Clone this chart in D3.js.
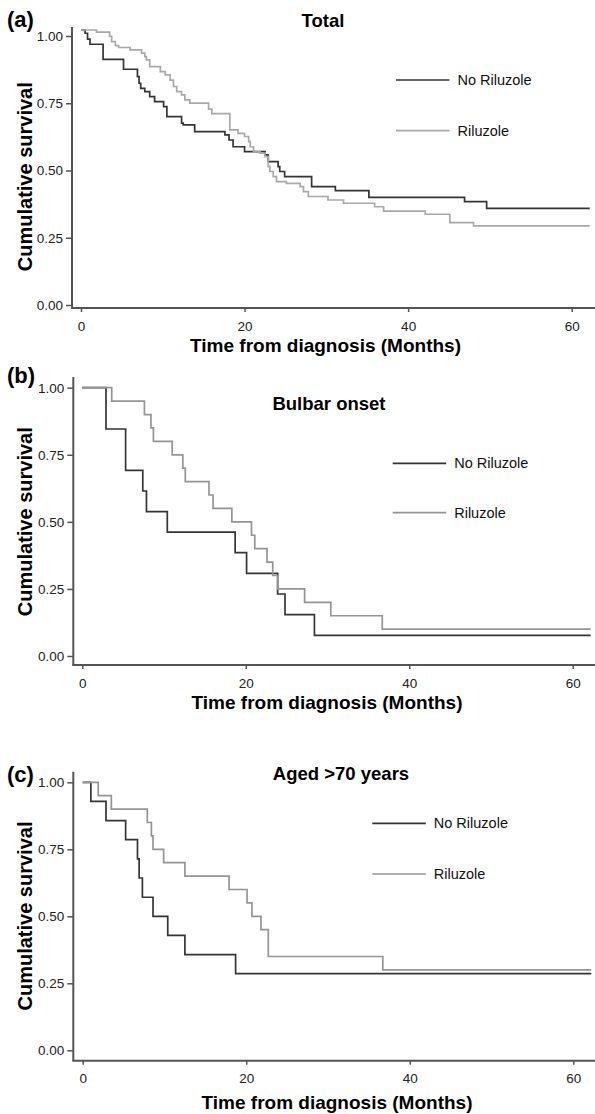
<!DOCTYPE html>
<html>
<head>
<meta charset="utf-8">
<script src="https://cdn.jsdelivr.net/npm/d3@7"></script>
<style>
  body { margin: 0; background: #fff; }
  svg { display: block; font-family: "Liberation Sans", Arial, Helvetica, sans-serif; }
</style>
</head>
<body>
<div id="chart"></div>
<script>
var groups = ['No Riluzole', 'Riluzole'];
var panelTags = ['(a)', '(b)', '(c)'];
var panelTitles = ['Total', 'Bulbar onset', 'Aged >70 years'];
var survivalTicks = [0, 0.25, 0.5, 0.75, 1];
var monthTicks = [0, 20, 40, 60];

// (a) Total
var totalNoRiluzoleMonths = [0, 0.5, 0.8, 1.1, 2.7, 5.2, 6.9, 7.1, 7.3, 7.8, 8.4, 9.0, 10.1, 10.5, 12.3, 12.5, 13.9, 17.6, 18.1, 18.6, 20.0, 22.5, 22.9, 24.1, 24.3, 24.9, 28.2, 31.1, 35.2, 46.9, 49.6, 62.2];
var totalNoRiluzoleSurvival = [1.0, 0.988, 0.966, 0.947, 0.891, 0.854, 0.827, 0.802, 0.783, 0.771, 0.752, 0.734, 0.715, 0.678, 0.654, 0.647, 0.622, 0.610, 0.591, 0.566, 0.548, 0.536, 0.511, 0.492, 0.474, 0.455, 0.418, 0.403, 0.378, 0.362, 0.337, 0.337];
var totalRiluzoleMonths = [0, 1.9, 3.5, 3.75, 4.2, 4.6, 6.0, 7.4, 7.8, 8.0, 8.4, 9.7, 10.3, 10.9, 11.3, 11.7, 12.3, 12.7, 13.3, 15.6, 16.0, 18.2, 19.2, 20.0, 20.5, 20.7, 21.1, 21.9, 22.5, 22.9, 23.1, 23.5, 23.9, 25.1, 26.8, 27.2, 27.8, 30.2, 32.1, 35.9, 37.0, 42.1, 45.1, 48.0, 62.2];
var totalRiluzoleSurvival = [1.0, 0.992, 0.976, 0.957, 0.942, 0.935, 0.926, 0.914, 0.901, 0.889, 0.864, 0.845, 0.833, 0.814, 0.790, 0.771, 0.759, 0.740, 0.728, 0.706, 0.689, 0.629, 0.616, 0.604, 0.585, 0.566, 0.548, 0.542, 0.529, 0.492, 0.474, 0.455, 0.436, 0.430, 0.418, 0.399, 0.381, 0.368, 0.356, 0.343, 0.327, 0.315, 0.284, 0.272, 0.272];

// (b) Bulbar onset
var bulbarNoRiluzoleMonths = [0, 2.9, 5.3, 7.4, 7.85, 10.4, 18.7, 20.1, 23.9, 24.8, 28.4, 62.2];
var bulbarNoRiluzoleSurvival = [1.0, 0.846, 0.692, 0.615, 0.538, 0.462, 0.385, 0.308, 0.231, 0.154, 0.077, 0.077];
var bulbarRiluzoleMonths = [0, 3.6, 7.6, 8.4, 8.7, 11.0, 12.3, 12.6, 15.5, 16.0, 18.3, 20.7, 21.1, 22.6, 23.3, 23.9, 27.2, 30.4, 36.7, 62.2];
var bulbarRiluzoleSurvival = [1.0, 0.95, 0.90, 0.85, 0.80, 0.75, 0.70, 0.65, 0.60, 0.55, 0.50, 0.45, 0.40, 0.35, 0.30, 0.25, 0.20, 0.15, 0.10, 0.10];

// (c) Aged >70 years
var agedNoRiluzoleMonths = [0, 1.0, 2.85, 5.25, 6.7, 6.9, 7.3, 8.6, 10.4, 12.5, 18.7, 62.2];
var agedNoRiluzoleSurvival = [1.0, 0.929, 0.857, 0.786, 0.714, 0.643, 0.571, 0.500, 0.429, 0.357, 0.286, 0.286];
var agedRiluzoleMonths = [0, 1.9, 3.5, 7.9, 8.4, 8.6, 9.9, 12.5, 17.9, 20.1, 20.7, 21.8, 22.7, 36.7, 62.2];
var agedRiluzoleSurvival = [1.0, 0.95, 0.90, 0.85, 0.80, 0.75, 0.70, 0.65, 0.60, 0.55, 0.50, 0.45, 0.35, 0.30, 0.30];

var width = 595, height = 1114;
var darkColor = '#353535';

// page placement of each panel (pixels)
var layouts = [
    { x0: 81, x60: 571.7, y1: 36, y0: 305, shift: 6, axisX: 72, axisTop: 27, axisBottom: 308,
      tagY: 26.5, titleX: 323, titleY: 26.7, legendX: 396, legendY: [80, 130.7],
      yLabelY: 176.7, xLabelX: 325.5, xLabelY: 351.5, gray: '#a9a9a9' },
    { x0: 82.3, x60: 572.7, y1: 387.7, y0: 656, shift: 0, axisX: 73.3, axisTop: 377, axisBottom: 665,
      tagY: 382.7, titleX: 329, titleY: 410, legendX: 392.7, legendY: [463.3, 512.7],
      yLabelY: 521.7, xLabelX: 327, xLabelY: 709, gray: '#959595' },
    { x0: 82.7, x60: 573.3, y1: 782.3, y0: 1050.3, shift: 0, axisX: 73.3, axisTop: 771.7, axisBottom: 1060.7,
      tagY: 781.7, titleX: 341, titleY: 780, legendX: 372.3, legendY: [823.3, 874],
      yLabelY: 916, xLabelX: 337, xLabelY: 1109, gray: '#959595' }
];

var curves = [
    [d3.zip(totalNoRiluzoleMonths, totalNoRiluzoleSurvival), d3.zip(totalRiluzoleMonths, totalRiluzoleSurvival)],
    [d3.zip(bulbarNoRiluzoleMonths, bulbarNoRiluzoleSurvival), d3.zip(bulbarRiluzoleMonths, bulbarRiluzoleSurvival)],
    [d3.zip(agedNoRiluzoleMonths, agedNoRiluzoleSurvival), d3.zip(agedRiluzoleMonths, agedRiluzoleSurvival)]
];

var svg = d3.select('#chart').append('svg')
    .attr('width', width)
    .attr('height', height);

layouts.forEach(function(p, i) {
    drawPanel(svg.append('g').attr('class', 'panel'), p, i);
});

function drawPanel(g, p, i) {
    var x = d3.scaleLinear().domain([0, 60]).range([p.x0, p.x60]);
    var yTick = d3.scaleLinear().domain([0, 1]).range([p.y0, p.y1]);
    // the curves of panel (a) sit a few pixels above its tick marks in the original
    var y = d3.scaleLinear().domain([0, 1]).range([p.y0 - p.shift, p.y1 - p.shift]);
    var colors = [darkColor, p.gray];

    // axis lines
    g.append('line')
        .attr('x1', p.axisX).attr('x2', p.axisX)
        .attr('y1', p.axisTop).attr('y2', p.axisBottom)
        .style('stroke', '#555').style('stroke-width', 2);
    g.append('line')
        .attr('x1', p.axisX - 1).attr('x2', width)
        .attr('y1', p.axisBottom).attr('y2', p.axisBottom)
        .style('stroke', '#555').style('stroke-width', 2);

    var yAxis = d3.axisLeft(yTick)
        .tickValues(survivalTicks)
        .tickFormat(d3.format('.2f'))
        .tickSize(6)
        .tickPadding(3);
    g.append('g')
        .attr('transform', 'translate(' + p.axisX + ',0)')
        .call(yAxis)
        .call(function(a) { a.select('.domain').remove(); });

    var xAxis = d3.axisBottom(x)
        .tickValues(monthTicks)
        .tickSize(4)
        .tickPadding(9);
    g.append('g')
        .attr('transform', 'translate(0,' + p.axisBottom + ')')
        .call(xAxis)
        .call(function(a) { a.select('.domain').remove(); });

    g.selectAll('.tick line').style('stroke', '#555').style('stroke-width', 1.5);
    g.selectAll('.tick text')
        .style('font-family', '"Liberation Sans", Arial, sans-serif')
        .style('font-size', '13.5px')
        .style('fill', '#222');

    // survival steps
    var line = d3.line()
        .x(function(d) { return x(d[0]); })
        .y(function(d) { return y(d[1]); })
        .curve(d3.curveStepAfter);

    g.selectAll('path.km')
        .data(curves[i])
        .enter().append('path')
        .attr('class', 'km')
        .attr('d', line)
        .style('fill', 'none')
        .style('stroke', function(d, k) { return colors[k]; })
        .style('stroke-width', 1.7);

    // legend
    var legend = g.selectAll('g.legend')
        .data(groups)
        .enter().append('g')
        .attr('class', 'legend')
        .attr('transform', function(d, k) { return 'translate(' + p.legendX + ',' + p.legendY[k] + ')'; });
    legend.append('line')
        .attr('x1', 0).attr('x2', 53.5)
        .style('stroke', function(d, k) { return colors[k]; })
        .style('stroke-width', 1.7);
    legend.append('text')
        .attr('x', 61.5)
        .attr('dy', '0.35em')
        .style('font-size', '14.5px')
        .style('fill', '#111')
        .text(function(d) { return d; });

    // texts
    g.append('text')
        .attr('x', 7).attr('y', p.tagY)
        .style('font-size', '22px').style('font-weight', 'bold')
        .text(panelTags[i]);
    g.append('text')
        .attr('x', p.titleX).attr('y', p.titleY)
        .attr('text-anchor', 'middle')
        .style('font-size', '18.5px').style('font-weight', 'bold')
        .text(panelTitles[i]);
    g.append('text')
        .attr('transform', 'translate(31.5,' + p.yLabelY + ') rotate(-90)')
        .attr('text-anchor', 'middle')
        .style('font-size', '20px').style('font-weight', 'bold')
        .text('Cumulative survival');
    g.append('text')
        .attr('x', p.xLabelX).attr('y', p.xLabelY)
        .attr('text-anchor', 'middle')
        .style('font-size', '19px').style('font-weight', 'bold')
        .text('Time from diagnosis (Months)');
}
</script>
</body>
</html>
